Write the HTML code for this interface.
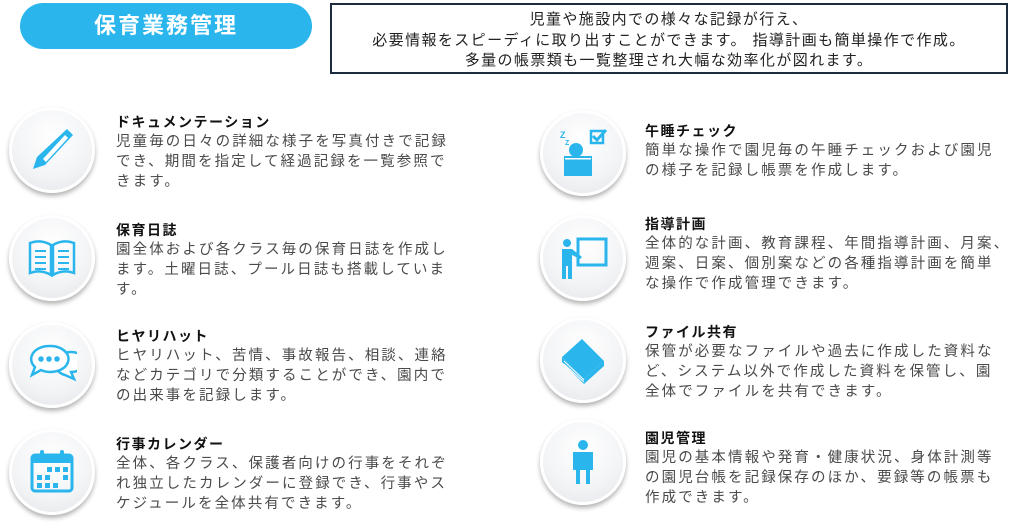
<!DOCTYPE html>
<html><head><meta charset="utf-8"><style>
*{margin:0;padding:0;box-sizing:border-box}
body{width:1024px;height:529px;background:#fff;position:relative;overflow:hidden;font-family:"Liberation Sans","Noto Sans CJK JP",sans-serif}
.pill{position:absolute;left:20px;top:3px;width:292px;height:46px;border-radius:23px;background:#2ab6ed;color:#fff;font-size:22px;font-weight:bold;letter-spacing:2px;line-height:46px;padding-left:74px}
.box{position:absolute;left:330px;top:3px;width:678px;height:71px;border:2px solid #1d2b3e;text-align:center;font-size:15px;letter-spacing:1.4px;line-height:20.5px;color:#222;padding-top:5px;white-space:nowrap}
.c{position:absolute;width:86px;height:86px;border-radius:50%;background:radial-gradient(circle at 50% 35%,#ffffff 0%,#f3f4f6 55%,#dfe2e6 100%);box-shadow:0 3px 5px rgba(0,0,0,.3),inset 0 0 0 3px #fff}
.c svg{position:absolute;left:18px;top:18px;width:50px;height:50px}
.t{position:absolute;color:#4a4a4a;font-size:14.5px;line-height:20px;letter-spacing:2.1px;white-space:nowrap}
.t b{color:#111;font-size:14px;display:block;letter-spacing:1.5px}
</style></head><body>
<div class="pill">保育業務管理</div>
<div class="box">児童や施設内での様々な記録が行え、<br>必要情報をスピーディに取り出すことができます。 指導計画も簡単操作で作成。<br>多量の帳票類も一覧整理され大幅な効率化が図れます。</div>

<div class="c" style="left:9px;top:107px"><svg viewBox="0 0 50 50"><path d="M40 4l6 6-28 30-12 4 4-12z" fill="#2ab6ed"/><path d="M38 10l3 3-22 24-3-3z" fill="#fff"/></svg></div>
<div class="t" style="left:116px;top:112px"><b>ドキュメンテーション</b>児童毎の日々の詳細な様子を写真付きで記録<br>でき、期間を指定して経過記録を一覧参照で<br>きます。</div>

<div class="c" style="left:9px;top:215px"><svg viewBox="0 0 50 50" fill="none" stroke="#2ab6ed" stroke-width="2.5"><path d="M3 10q11-4 21 2v30q-10-6-21-2z M47 10q-11-4-21 2v30q10-6 21-2z"/><path d="M8 18h11M8 24h11M8 30h11M8 36h11M31 18h11M31 24h11M31 30h11M31 36h11" stroke-width="2"/></svg></div>
<div class="t" style="left:116px;top:220px"><b>保育日誌</b>園全体および各クラス毎の保育日誌を作成し<br>ます。土曜日誌、プール日誌も搭載していま<br>す。</div>

<div class="c" style="left:9px;top:322px"><svg viewBox="0 0 50 50" fill="#fff" stroke="#2ab6ed" stroke-width="2.5"><path d="M30 22a14 10 0 1 1 14 10l3 7-9-4a14 10 0 0 1-8-13z"/><path d="M22 6a18 13 0 1 1-8 24l-9 5 3-8a18 13 0 0 1 14-21z"/><circle cx="14" cy="19" r="1.5" fill="#2ab6ed"/><circle cx="22" cy="19" r="1.5" fill="#2ab6ed"/><circle cx="30" cy="19" r="1.5" fill="#2ab6ed"/></svg></div>
<div class="t" style="left:116px;top:326px"><b>ヒヤリハット</b>ヒヤリハット、苦情、事故報告、相談、連絡<br>などカテゴリで分類することができ、園内で<br>の出来事を記録します。</div>

<div class="c" style="left:9px;top:429px"><svg viewBox="0 0 50 50"><rect x="5" y="8" width="40" height="36" rx="3" fill="none" stroke="#2ab6ed" stroke-width="3"/><rect x="5" y="8" width="40" height="8" fill="#2ab6ed"/><rect x="13" y="3" width="4" height="9" rx="2" fill="#2ab6ed"/><rect x="33" y="3" width="4" height="9" rx="2" fill="#2ab6ed"/><g fill="#2ab6ed"><rect x="20" y="20" width="5" height="5"/><rect x="28" y="20" width="5" height="5"/><rect x="36" y="20" width="5" height="5"/><rect x="10" y="28" width="5" height="5"/><rect x="18" y="28" width="5" height="5"/><rect x="36" y="28" width="5" height="5"/><rect x="10" y="36" width="5" height="5"/><rect x="18" y="36" width="5" height="5"/><rect x="26" y="36" width="5" height="5"/></g></svg></div>
<div class="t" style="left:116px;top:434px"><b>行事カレンダー</b>全体、各クラス、保護者向けの行事をそれぞ<br>れ独立したカレンダーに登録でき、行事やス<br>ケジュールを全体共有できます。</div>

<div class="c" style="left:540px;top:110px"><svg viewBox="0 0 50 50"><text x="2" y="10" font-size="9" fill="#2ab6ed" font-weight="bold">Z</text><text x="7" y="17" font-size="7" fill="#2ab6ed" font-weight="bold">Z</text><circle cx="18" cy="22" r="7" fill="#2ab6ed"/><rect x="6" y="28" width="28" height="20" fill="#2ab6ed"/><rect x="7" y="30" width="26" height="1.5" fill="#fff"/><rect x="33" y="3" width="12" height="12" fill="none" stroke="#2ab6ed" stroke-width="2.5"/><path d="M35 8l4 4 9-10" fill="none" stroke="#2ab6ed" stroke-width="3"/></svg></div>
<div class="t" style="left:645px;top:121px"><b>午睡チェック</b>簡単な操作で園児毎の午睡チェックおよび園児<br>の様子を記録し帳票を作成します。</div>

<div class="c" style="left:540px;top:215px"><svg viewBox="0 0 50 50"><rect x="20" y="6" width="28" height="26" fill="none" stroke="#2ab6ed" stroke-width="3"/><circle cx="9" cy="10" r="4" fill="#2ab6ed"/><path d="M4 16h10l10 8-2 2-8-4v24h-4v-13h-2v13h-4z" fill="#2ab6ed"/></svg></div>
<div class="t" style="left:645px;top:214px"><b>指導計画</b>全体的な計画、教育課程、年間指導計画、月案、<br>週案、日案、個別案などの各種指導計画を簡単<br>な操作で作成管理できます。</div>

<div class="c" style="left:540px;top:317px"><svg viewBox="0 0 50 50"><path d="M4 22l20-18 22 22-20 18z" fill="#2ab6ed"/><path d="M4 22v5l22 22 20-18v-5l-20 18z" fill="#2ab6ed"/><path d="M6 26l20 19M6 29l20 18" stroke="#fff" stroke-width="1"/></svg></div>
<div class="t" style="left:645px;top:322px"><b>ファイル共有</b>保管が必要なファイルや過去に作成した資料な<br>ど、システム以外で作成した資料を保管し、園<br>全体でファイルを共有できます。</div>

<div class="c" style="left:540px;top:419px"><svg viewBox="0 0 50 50"><circle cx="25" cy="8" r="5" fill="#2ab6ed"/><path d="M15 15h20v18h-3v14h-4v-14h-6v14h-4v-14h-3z" fill="#2ab6ed"/></svg></div>
<div class="t" style="left:645px;top:428px"><b>園児管理</b>園児の基本情報や発育・健康状況、身体計測等<br>の園児台帳を記録保存のほか、要録等の帳票も<br>作成できます。</div>
</body></html>
